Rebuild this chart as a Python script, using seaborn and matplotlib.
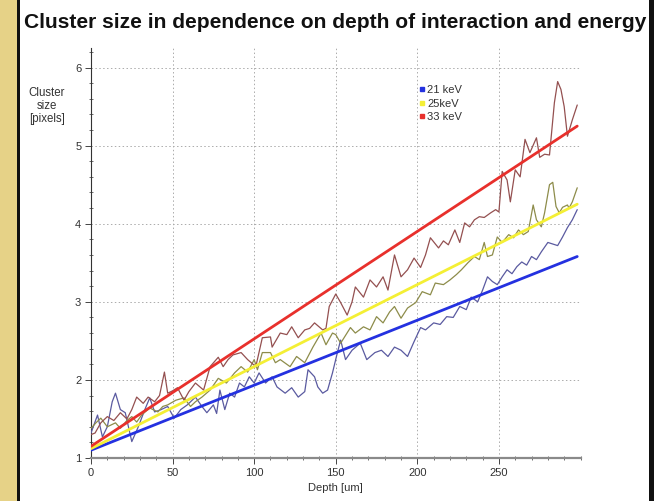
import matplotlib
matplotlib.use("Agg")
import matplotlib.pyplot as plt
from matplotlib.patches import Rectangle
from matplotlib.lines import Line2D
from matplotlib.ticker import MultipleLocator
import numpy as np
import pandas as pd
import seaborn as sns

# Measured mean cluster size vs. depth for each beam energy
depth_21 = [0, 4, 7, 10, 13, 15, 18, 21, 25, 29, 33, 36, 39, 43, 47, 51, 55, 59, 64, 68,
            71, 75, 77, 79, 82, 85, 88, 91, 94, 97, 100, 103, 107, 111, 114, 119, 123, 127,
            131, 133, 137, 139, 142, 145, 148, 151, 153, 156, 160, 165, 169, 174, 178, 182,
            186, 190, 194, 198, 202, 205, 210, 214, 218, 222, 226, 230, 233, 237, 240, 243,
            246, 249, 252, 255, 258, 261, 264, 267, 270, 273, 276, 280, 283, 286, 289, 292,
            295, 298]
size_21 = [1.32, 1.55, 1.27, 1.40, 1.72, 1.83, 1.62, 1.58, 1.21, 1.40, 1.62, 1.77, 1.59, 1.62,
           1.66, 1.51, 1.62, 1.68, 1.78, 1.66, 1.58, 1.68, 1.57, 1.87, 1.62, 1.83, 1.78, 1.96,
           1.91, 2.04, 1.96, 2.09, 1.96, 2.04, 1.91, 1.83, 1.90, 1.78, 1.85, 2.13, 2.04, 1.91,
           1.83, 1.87, 2.09, 2.35, 2.51, 2.26, 2.38, 2.47, 2.26, 2.35, 2.38, 2.30, 2.42, 2.38,
           2.30, 2.49, 2.67, 2.64, 2.73, 2.71, 2.81, 2.80, 2.94, 2.90, 3.06, 3.00, 3.15, 3.32,
           3.26, 3.22, 3.32, 3.41, 3.36, 3.45, 3.51, 3.47, 3.58, 3.54, 3.64, 3.76, 3.74, 3.72,
           3.83, 3.95, 4.05, 4.18]

depth_25 = [0, 3, 6, 10, 15, 18, 22, 25, 28, 31, 36, 41, 44, 47, 52, 57, 61, 64, 68, 73,
            78, 83, 88, 92, 96, 100, 102, 105, 110, 113, 116, 122, 126, 131, 136, 141, 144,
            148, 150, 153, 159, 162, 167, 171, 175, 179, 183, 186, 190, 194, 199, 203, 208,
            211, 216, 220, 224, 227, 231, 235, 238, 241, 243, 246, 249, 252, 256, 259, 262,
            265, 268, 271, 273, 276, 278, 281, 283, 285, 287, 289, 292, 293, 295, 298]
size_25 = [1.38, 1.45, 1.51, 1.40, 1.45, 1.38, 1.48, 1.53, 1.46, 1.55, 1.64, 1.59, 1.66, 1.68,
           1.74, 1.77, 1.66, 1.72, 1.78, 1.87, 2.02, 1.96, 2.09, 2.17, 2.10, 2.26, 2.13, 2.35,
           2.35, 2.22, 2.26, 2.17, 2.30, 2.22, 2.42, 2.60, 2.45, 2.60, 2.58, 2.47, 2.67, 2.60,
           2.68, 2.64, 2.81, 2.73, 2.87, 2.94, 2.79, 2.92, 2.99, 3.13, 3.09, 3.24, 3.22, 3.28,
           3.35, 3.41, 3.50, 3.58, 3.54, 3.76, 3.58, 3.60, 3.83, 3.76, 3.86, 3.82, 3.92, 3.86,
           3.90, 4.24, 4.05, 3.96, 4.14, 4.50, 4.53, 4.22, 4.14, 4.21, 4.24, 4.20, 4.28, 4.46]

depth_33 = [0, 2.5, 6, 10, 14, 18, 22, 25, 28, 32, 35, 39, 42, 45, 47, 50, 53, 57, 60, 64,
            69, 73, 78, 81, 84, 87, 92, 96, 101, 105, 110, 111, 116, 120, 123, 127, 131, 134,
            137, 142, 144, 146, 150, 153, 157, 160, 162, 167, 171, 175, 179, 182, 186, 190,
            194, 198, 202, 205, 208, 213, 216, 219, 223, 226, 229, 232, 235, 238, 241, 245,
            248, 250, 252, 255, 257, 260, 263, 266, 269, 273, 275, 278, 281, 284, 286, 288,
            290, 292, 295, 298]
size_33 = [1.30, 1.32, 1.45, 1.53, 1.48, 1.58, 1.50, 1.62, 1.78, 1.70, 1.78, 1.72, 1.80, 2.10,
           1.83, 1.86, 1.90, 1.74, 1.85, 1.96, 1.87, 2.17, 2.29, 2.17, 2.26, 2.32, 2.35, 2.26,
           2.17, 2.54, 2.55, 2.42, 2.60, 2.58, 2.68, 2.54, 2.64, 2.66, 2.73, 2.64, 2.66, 2.94,
           3.10, 2.99, 2.83, 3.00, 3.19, 3.06, 3.28, 3.19, 3.32, 3.15, 3.60, 3.32, 3.41, 3.56,
           3.44, 3.60, 3.82, 3.69, 3.78, 3.73, 3.92, 3.76, 4.01, 3.96, 4.05, 4.09, 4.08, 4.14,
           4.18, 4.15, 4.67, 4.56, 4.28, 4.69, 4.60, 5.08, 4.91, 5.10, 4.85, 4.89, 4.88, 5.55,
           5.82, 5.72, 5.50, 5.12, 5.33, 5.52]

# Linear fits: cluster size at the entrance (0 um) and at the back (298 um)
energies = ["21 keV", "25keV", "33 keV"]
fit_depth = [0, 298]
fit_21 = [1.10, 3.58]
fit_25 = [1.12, 4.25]
fit_33 = [1.15, 5.25]

x_ticks = [0, 50, 100, 150, 200, 250]
y_ticks = [1, 2, 3, 4, 5, 6]

meas_colors = {"21 keV": "#5a5aa0", "25keV": "#8d8c4a", "33 keV": "#945050"}
fit_colors = {"21 keV": "#2431e0", "25keV": "#f4ef35", "33 keV": "#e8302c"}

meas = pd.concat([
    pd.DataFrame({"depth": depth_21, "size": size_21, "energy": "21 keV"}),
    pd.DataFrame({"depth": depth_25, "size": size_25, "energy": "25keV"}),
    pd.DataFrame({"depth": depth_33, "size": size_33, "energy": "33 keV"}),
], ignore_index=True)
fits = pd.concat([
    pd.DataFrame({"depth": fit_depth, "size": fit_21, "energy": "21 keV"}),
    pd.DataFrame({"depth": fit_depth, "size": fit_25, "energy": "25keV"}),
    pd.DataFrame({"depth": fit_depth, "size": fit_33, "energy": "33 keV"}),
], ignore_index=True)

sns.set_theme(style="white")
plt.rcParams["font.family"] = ["Liberation Sans", "DejaVu Sans"]

fig = plt.figure(figsize=(6.54, 5.01), dpi=100)
fig.patch.set_facecolor("white")

# Page frame: golden margin on the left, dark rules at both sides
fig.patches.append(Rectangle((0, 0), 17 / 654, 1, transform=fig.transFigure,
                             facecolor="#e6d287", edgecolor="none", zorder=0))
fig.patches.append(Rectangle((17 / 654, 0), 3 / 654, 1, transform=fig.transFigure,
                             facecolor="#111111", edgecolor="none", zorder=0))
fig.patches.append(Rectangle((649 / 654, 0), 5 / 654, 1, transform=fig.transFigure,
                             facecolor="#111111", edgecolor="none", zorder=0))

ax = fig.add_axes([91 / 654, 43 / 501, 489.5 / 654, 410 / 501])
ax.set_facecolor("white")

sns.lineplot(data=meas, x="depth", y="size", hue="energy", palette=meas_colors,
             estimator=None, sort=True, linewidth=0.9, legend=False, ax=ax, zorder=3)
sns.lineplot(data=fits, x="depth", y="size", hue="energy", palette=fit_colors,
             estimator=None, sort=True, linewidth=2.0, legend=False, ax=ax, zorder=4)

ax.set_xlim(0, 300)
ax.set_ylim(1, 6.25)
ax.set_xticks(x_ticks)
ax.set_yticks(y_ticks)
ax.xaxis.set_minor_locator(MultipleLocator(10))
ax.yaxis.set_minor_locator(MultipleLocator(0.2))
ax.grid(True, which="major", color="#ababab", linestyle=(0, (1.5, 2.5)), linewidth=0.7)
ax.set_axisbelow(True)

for side in ("top", "right"):
    ax.spines[side].set_visible(False)
ax.spines["left"].set_color("#333333")
ax.spines["left"].set_linewidth(0.8)
ax.spines["bottom"].set_color("#8a8a8a")
ax.spines["bottom"].set_linewidth(1.6)

ax.tick_params(axis="both", which="major", direction="out", length=4, width=0.7,
               colors="#444444", labelsize=8, labelcolor="#333333", pad=3)
ax.tick_params(axis="both", which="minor", direction="inout", length=3, width=0.6,
               colors="#555555")
ax.tick_params(axis="both", which="both", left=True, bottom=True)

ax.set_xlabel("Depth [um]", fontsize=8, color="#333333", labelpad=4)
ax.set_ylabel("")
fig.text(47 / 654, 1 - 106 / 501, "Cluster\nsize\n[pixels]", ha="center", va="center",
         fontsize=8.3, color="#333333", linespacing=1.1)

fig.text(335 / 654, 1 - 22 / 501,
         "Cluster size in dependence on depth of interaction and energy",
         ha="center", va="center", fontsize=15.1, fontweight="bold", color="#111111")

handles = [Line2D([], [], linestyle="none", marker="s", markersize=2.8,
                  markerfacecolor=fit_colors[e], markeredgecolor=fit_colors[e])
           for e in energies]
ax.legend(handles, energies, loc="upper left", bbox_to_anchor=(0.66, 0.92),
          frameon=False, fontsize=8, handlelength=0.6, handletextpad=0.2,
          labelspacing=0.3, borderaxespad=0, labelcolor="#333333")

fig.savefig("out.png", dpi=100)
